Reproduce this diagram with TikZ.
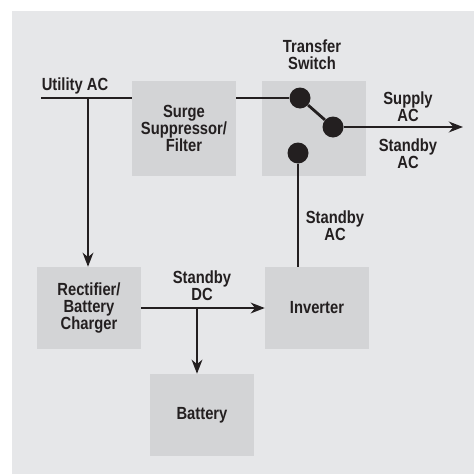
\documentclass[tikz,border=0pt]{standalone}
\usepackage{fontspec}
\setmainfont{Liberation Sans}[FakeStretch=0.84]
\usepackage{tikz}
\usetikzlibrary{arrows.meta,positioning,calc}
\definecolor{UpsPanel}{RGB}{230,231,233}
\definecolor{UpsBlock}{RGB}{211,212,214}
\definecolor{UpsInk}{RGB}{35,31,32}
\tikzset{
  ups/block/.style={
    fill=UpsBlock,
    inner sep=0pt,
    align=center,
    text=UpsInk,
    minimum width=3.12cm,
    minimum height=2.46cm,
    font=\bfseries\fontsize{15}{14.5}\selectfont
  },
  ups/tall/.style={ups/block, minimum height=2.85cm},
  ups/contact/.style={circle, fill=UpsInk, inner sep=0pt, minimum size=0.63cm},
  ups/label/.style={align=center, text=UpsInk, inner sep=0pt, font=\bfseries\fontsize{15}{14.5}\selectfont},
  ups/wire/.style={line width=2.4pt, draw=UpsInk},
  ups/arrow/.style={ups/wire, -{Stealth[length=4.2mm,width=3.2mm,inset=1.3mm]}}
}
\begin{document}
\begin{tikzpicture}[x=0.03cm,y=-0.03cm]
  \useasboundingbox (0,0) rectangle (474,475);
  \fill[UpsPanel] (12,11) rectangle (474,474);

  % blocks
  \node[ups/tall] (surge) at (184,128.5) {Surge\\Suppressor/\\Filter};
  \node[ups/tall] (xfer) at (314,128.5) {};
  \node[ups/block] (rect) at (89,308) {Rectifier/\\Battery\\Charger};
  \node[ups/block] (inv) at (317,308) {Inverter};
  \node[ups/block] (batt) at (202,415) {Battery};

  % switch contacts
  \node[ups/contact] (dotU) at (300,98) {};
  \node[ups/contact] (dotO) at (333,127) {};
  \node[ups/contact] (dotS) at (298,153) {};

  \coordinate (util) at (41,98);
  \coordinate (tap) at (88,98);
  \coordinate (out) at (463,127);
  \coordinate (dctap) at (197,308);

  % wiring
  \draw[ups/wire] (util) -- (util -| surge.west);
  \draw[ups/wire] (surge.east |- dotU) -- (dotU);
  \draw[ups/arrow] (tap) -- (tap |- rect.north);
  \draw[ups/wire] (dotU) -- (dotO);
  \draw[ups/arrow] (dotO) -- (out);
  \draw[ups/wire] (dotS) -- (dotS |- inv.north);
  \draw[ups/arrow] (rect.east) -- (inv.west);
  \draw[ups/arrow] (dctap) -- (dctap |- batt.north);

  % labels
  \node[ups/label] (lUtil) at (75,86) {Utility AC};
  \node[ups/label] (lXfer) at (312,55) {Transfer\\Switch};
  \node[ups/label] (lSupply) at (408,107) {Supply\\AC};
  \node[ups/label] (lStbyR) at (408,154) {Standby\\AC};
  \node[ups/label] (lStbyV) at (335,226) {Standby\\AC};
  \node[ups/label] (lStbyDC) at (202,286) {Standby\\DC};
\end{tikzpicture}
\end{document}
